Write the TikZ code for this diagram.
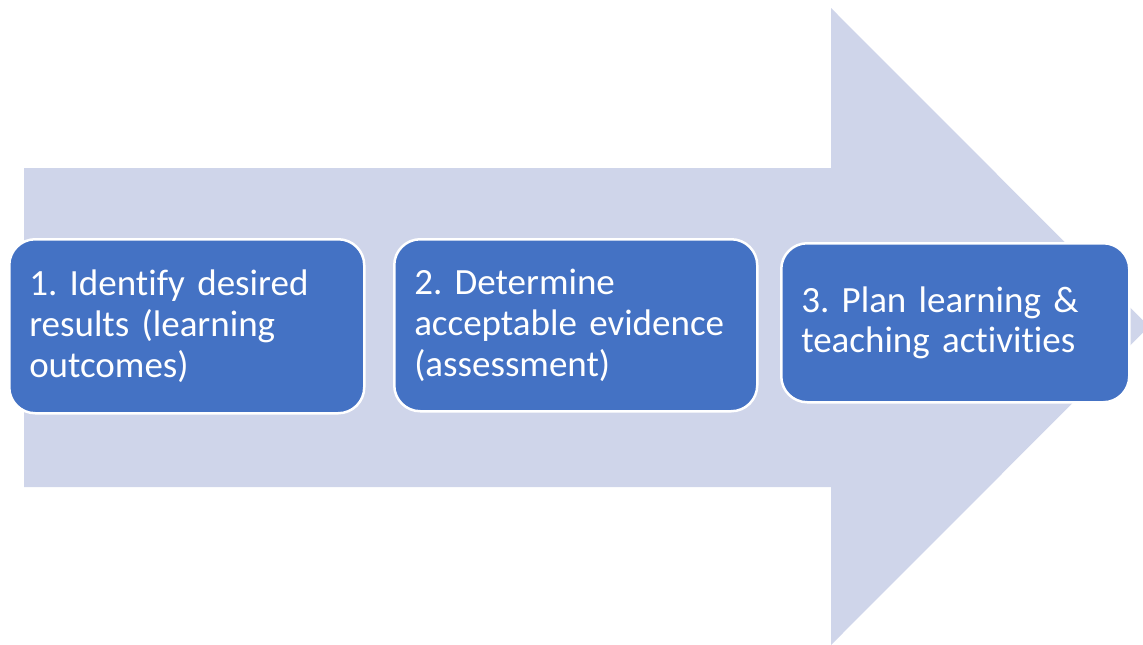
\documentclass[tikz,border=0pt]{standalone}
\usepackage{fontspec}
\setmainfont{Carlito}[Ligatures=NoCommon,WordSpace=0.85]
\frenchspacing
\definecolor{arrowgrey}{RGB}{207,213,234}
\definecolor{stepblue}{RGB}{68,114,196}

\begin{document}
\begin{tikzpicture}[x=1pt,y=-1pt,
    stepbox/.style={draw=white,line width=2.5pt,fill=stepblue,rounded corners=26pt,
                    text=white,align=left,anchor=north west,inner xsep=20pt,
                    font=\fontsize{37}{40.6}\selectfont}
]
  \useasboundingbox (0,0) rectangle (1143,645);
  % Big background arrow, tip runs past the right edge
  \begin{scope}
    \clip (0,0) rectangle (1143,645);
    \fill[arrowgrey] (24,168) -- (831,168) -- (831,8) -- (1149,326.5)
      -- (831,645) -- (831,487) -- (24,487) -- cycle;
  \end{scope}
  % Steps
  \node[stepbox,minimum width=355pt,minimum height=174pt,text width=315pt] (identify) at (8,238)
    {1. Identify desired\\results (learning\\outcomes)};
  \node[stepbox,minimum width=363pt,minimum height=172pt,text width=323pt] (evidence) at (393,238)
    {2. Determine\\acceptable evidence\\(assessment)};
  \node[stepbox,minimum width=348pt,minimum height=159pt,text width=308pt] (plan) at (780,242)
    {3. Plan learning \&\\teaching activities};
\end{tikzpicture}
\end{document}
